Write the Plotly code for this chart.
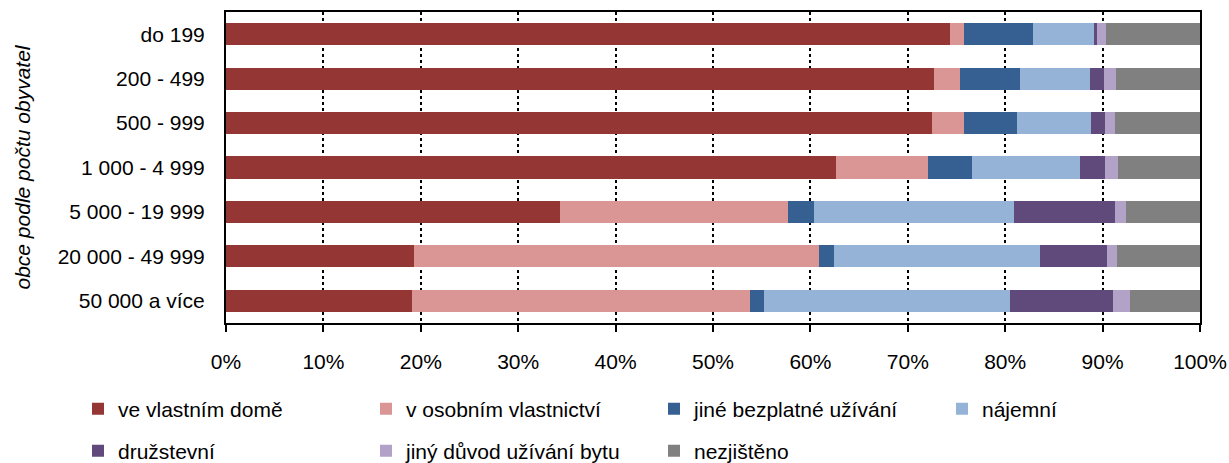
import plotly.graph_objects as go

categories = ["do 199", "200 - 499", "500 - 999", "1 000 - 4 999",
              "5 000 - 19 999", "20 000 - 49 999", "50 000 a více"]

ve_vlastnim_dome = [74.3, 72.7, 72.45, 62.6, 34.3, 19.3, 19.1]
v_osobnim_vlastnictvi = [1.45, 2.7, 3.3, 9.45, 23.4, 41.55, 34.65]
jine_bezplatne = [7.14, 6.1, 5.5, 4.5, 2.65, 1.55, 1.45]
najemni = [6.2, 7.2, 7.6, 11.1, 20.55, 21.15, 25.25]
druzstevni = [0.35, 1.4, 1.35, 2.6, 10.4, 6.9, 10.6]
jiny_duvod = [0.87, 1.25, 1.1, 1.3, 1.1, 1.05, 1.75]
nezjisteno = [9.7, 8.65, 8.65, 8.5, 7.6, 8.5, 7.2]

series_names = ["ve vlastním domě", "v osobním vlastnictví", "jiné bezplatné užívání",
                "nájemní", "družstevní", "jiný důvod užívání bytu", "nezjištěno"]
series_values = [ve_vlastnim_dome, v_osobnim_vlastnictvi, jine_bezplatne,
                 najemni, druzstevni, jiny_duvod, nezjisteno]
series_colors = ["#943634", "#D99694", "#376092", "#95B3D7",
                 "#604A7B", "#B3A2C7", "#808080"]
legend_ids = ["legend", "legend", "legend", "legend", "legend2", "legend2", "legend2"]

FONT = "Liberation Sans, Arial, sans-serif"
FS = 21

W, H = 1229, 463
ML, MR, MT, MB = 226, 29, 12, 140
PW = W - ML - MR
PH = H - MT - MB

fig = go.Figure()
for name, vals, color, lg in zip(series_names, series_values, series_colors, legend_ids):
    fig.add_trace(go.Bar(
        y=categories, x=vals, name=name, orientation="h",
        marker=dict(color=color, line=dict(width=0)),
        legend=lg,
    ))

legend_common = dict(
    orientation="h",
    x=(78 - ML) / PW, xanchor="left",
    yanchor="middle",
    entrywidth=243, entrywidthmode="pixels",
    font=dict(family=FONT, size=FS, color="black"),
    traceorder="normal",
    itemwidth=30,
    bgcolor="rgba(0,0,0,0)",
)

fig.update_layout(
    barmode="stack",
    bargap=0.5,
    width=W, height=H,
    margin=dict(l=ML, r=MR, t=MT, b=MB, autoexpand=False),
    paper_bgcolor="white",
    plot_bgcolor="white",
    font=dict(family=FONT, size=FS, color="black"),
    showlegend=True,
    legend=dict(legend_common, y=(H - MB - 409) / PH),
    legend2=dict(legend_common, y=(H - MB - 451) / PH),
    xaxis=dict(
        range=[0, 100],
        tickmode="linear", tick0=0, dtick=10,
        ticksuffix="%",
        showgrid=True, gridcolor="black", griddash="dot", gridwidth=1.5,
        showline=True, linecolor="black", linewidth=2, mirror=True,
        ticks="outside", ticklen=7, tickcolor="black", tickwidth=2,
        ticklabelstandoff=12,
        zeroline=False,
        tickfont=dict(family=FONT, size=FS, color="black"),
    ),
    yaxis=dict(
        categoryorder="array", categoryarray=categories,
        autorange="reversed",
        showline=True, linecolor="black", linewidth=2, mirror=True,
        ticks="", showgrid=False,
        ticklabelstandoff=15,
        tickfont=dict(family=FONT, size=FS, color="black"),
    ),
    annotations=[dict(
        text="<i>obce podle počtu obyvatel</i>",
        xref="paper", yref="paper",
        x=(22 - ML) / PW, y=0.5,
        xanchor="center", yanchor="middle",
        textangle=-90, showarrow=False,
        font=dict(family=FONT, size=FS, color="black"),
    )],
)

fig.write_html(
    "out.html",
    config={"displayModeBar": False},
    post_script="document.body.style.margin='0';document.body.style.overflow='hidden';",
)
